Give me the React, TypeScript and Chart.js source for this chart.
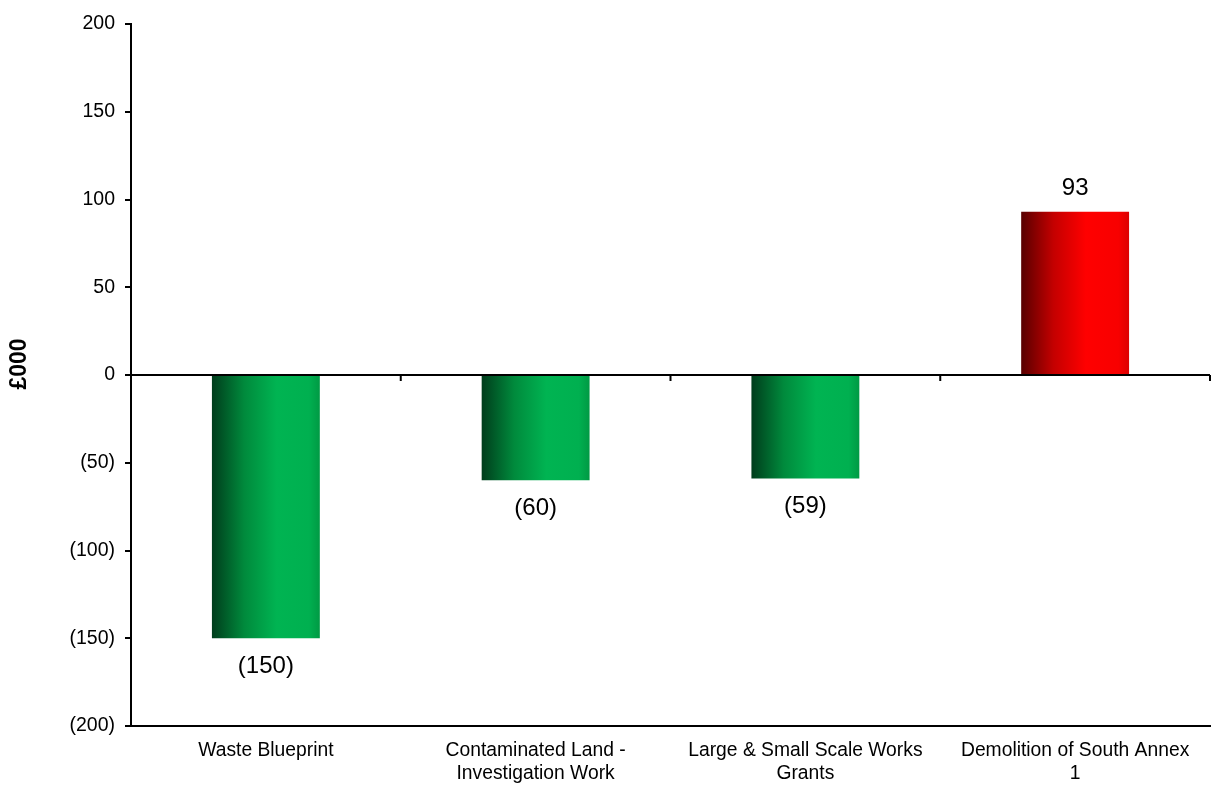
import React, { useEffect, useRef } from "react";
import { Chart, registerables } from "chart.js";

Chart.register(...registerables);

// Variance by scheme, £000 (negative = underspend)
const categories: string[][] = [
  ["Waste Blueprint"],
  ["Contaminated Land -", "Investigation Work"],
  ["Large & Small Scale Works", "Grants"],
  ["Demolition of South Annex", "1"],
];
const variances: number[] = [-150, -60, -59, 93];
const yTicks: number[] = [-200, -150, -100, -50, 0, 50, 100, 150, 200];
const yTitle = "£000";

const FONT = "'Liberation Sans', Arial, Helvetica, sans-serif";
const BAR_PCT = 0.4;

const fmt = (v: number) => (v < 0 ? `(${Math.abs(v)})` : `${v}`);

// Horizontal shaded fill across each bar (dark left edge, bright centre-right)
function barFill(ctx: any) {
  const chart = ctx.chart;
  const x = chart.scales?.x;
  const v = variances[ctx.dataIndex];
  const pos = v >= 0;
  const stops: [number, string][] = pos
    ? [
        [0, "#580000"],
        [0.3, "#c40000"],
        [0.6, "#ff0000"],
        [0.9, "#f80000"],
        [1, "#dc0000"],
      ]
    : [
        [0, "#003d1c"],
        [0.3, "#008a3c"],
        [0.6, "#00b452"],
        [0.9, "#00b050"],
        [1, "#009a44"],
      ];
  if (!x || x.width === undefined || ctx.type !== "data") return stops[2][1];
  const step = x.width / categories.length;
  const cx = x.getPixelForValue(ctx.dataIndex);
  const half = (step * BAR_PCT) / 2;
  const g = chart.ctx.createLinearGradient(cx - half, 0, cx + half, 0);
  stops.forEach(([o, c]) => g.addColorStop(o, c));
  return g;
}

// Zero baseline with category tick marks, value labels and the axis title
const overlay = {
  id: "overlay",
  afterDatasetsDraw(chart: any) {
    const { ctx, chartArea, scales } = chart;
    const xs = scales.x;
    const ys = scales.y;
    const y0 = ys.getPixelForValue(0);
    ctx.save();
    ctx.strokeStyle = "#000";
    ctx.lineWidth = 2;
    ctx.beginPath();
    ctx.moveTo(chartArea.left, y0);
    ctx.lineTo(chartArea.right, y0);
    const n = categories.length;
    for (let i = 1; i <= n; i++) {
      const bx =
        i < n
          ? (xs.getPixelForValue(i - 1) + xs.getPixelForValue(i)) / 2
          : chartArea.right;
      ctx.moveTo(bx, y0);
      ctx.lineTo(bx, y0 + 6);
    }
    ctx.stroke();

    ctx.fillStyle = "#000";
    ctx.font = `24px ${FONT}`;
    ctx.textAlign = "center";
    ctx.textBaseline = "middle";
    const meta = chart.getDatasetMeta(0);
    meta.data.forEach((bar: any, i: number) => {
      const v = variances[i];
      const yv = ys.getPixelForValue(v);
      const ty = v >= 0 ? yv - 23 : yv + 28;
      ctx.fillText(fmt(v), bar.x, ty);
    });

    // rotated axis title, sitting slightly above the plot's mid-height
    ctx.font = `bold 23px ${FONT}`;
    ctx.translate(ys.left + 20, (chartArea.top + chartArea.bottom) / 2 - 11);
    ctx.rotate(-Math.PI / 2);
    ctx.fillText(yTitle, 0, 0);
    ctx.restore();
  },
};

export default function App() {
  const ref = useRef<HTMLCanvasElement | null>(null);

  useEffect(() => {
    if (!ref.current) return;
    const chart = new Chart(ref.current, {
      type: "bar",
      data: {
        labels: categories,
        datasets: [
          {
            data: variances,
            backgroundColor: barFill,
            borderWidth: 0,
            barPercentage: BAR_PCT,
            categoryPercentage: 1,
          },
        ],
      },
      options: {
        animation: false,
        responsive: true,
        maintainAspectRatio: false,
        layout: { padding: { top: 24, right: 5, bottom: 0, left: 0 } },
        plugins: {
          legend: { display: false },
          tooltip: { enabled: false },
        },
        scales: {
          x: {
            grid: { display: false, drawTicks: false },
            border: { display: true, color: "#000", width: 2 },
            ticks: {
              color: "#000",
              font: { family: FONT, size: 19.3, lineHeight: 1.15 },
              padding: 14,
              maxRotation: 0,
              autoSkip: false,
            },
            afterFit(scale: any) {
              scale.height = 61;
            },
          },
          y: {
            min: -200,
            max: 200,
            afterBuildTicks(scale: any) {
              scale.ticks = yTicks.map((value) => ({ value }));
            },
            grid: {
              drawOnChartArea: false,
              drawTicks: true,
              tickLength: 6,
              color: "#000",
              lineWidth: 2,
            },
            border: { display: true, color: "#000", width: 2 },
            ticks: {
              color: "#000",
              font: { family: FONT, size: 19.5 },
              padding: 10,
              callback: (v: any) => fmt(Number(v)),
            },
            afterFit(scale: any) {
              scale.width = 131;
            },
          },
        },
      },
      plugins: [overlay],
    });
    return () => chart.destroy();
  }, []);

  return (
    <div
      style={{
        position: "absolute",
        left: 0,
        top: 0,
        width: 1215,
        height: 787,
        background: "#fff",
      }}
    >
      <canvas ref={ref} />
    </div>
  );
}
